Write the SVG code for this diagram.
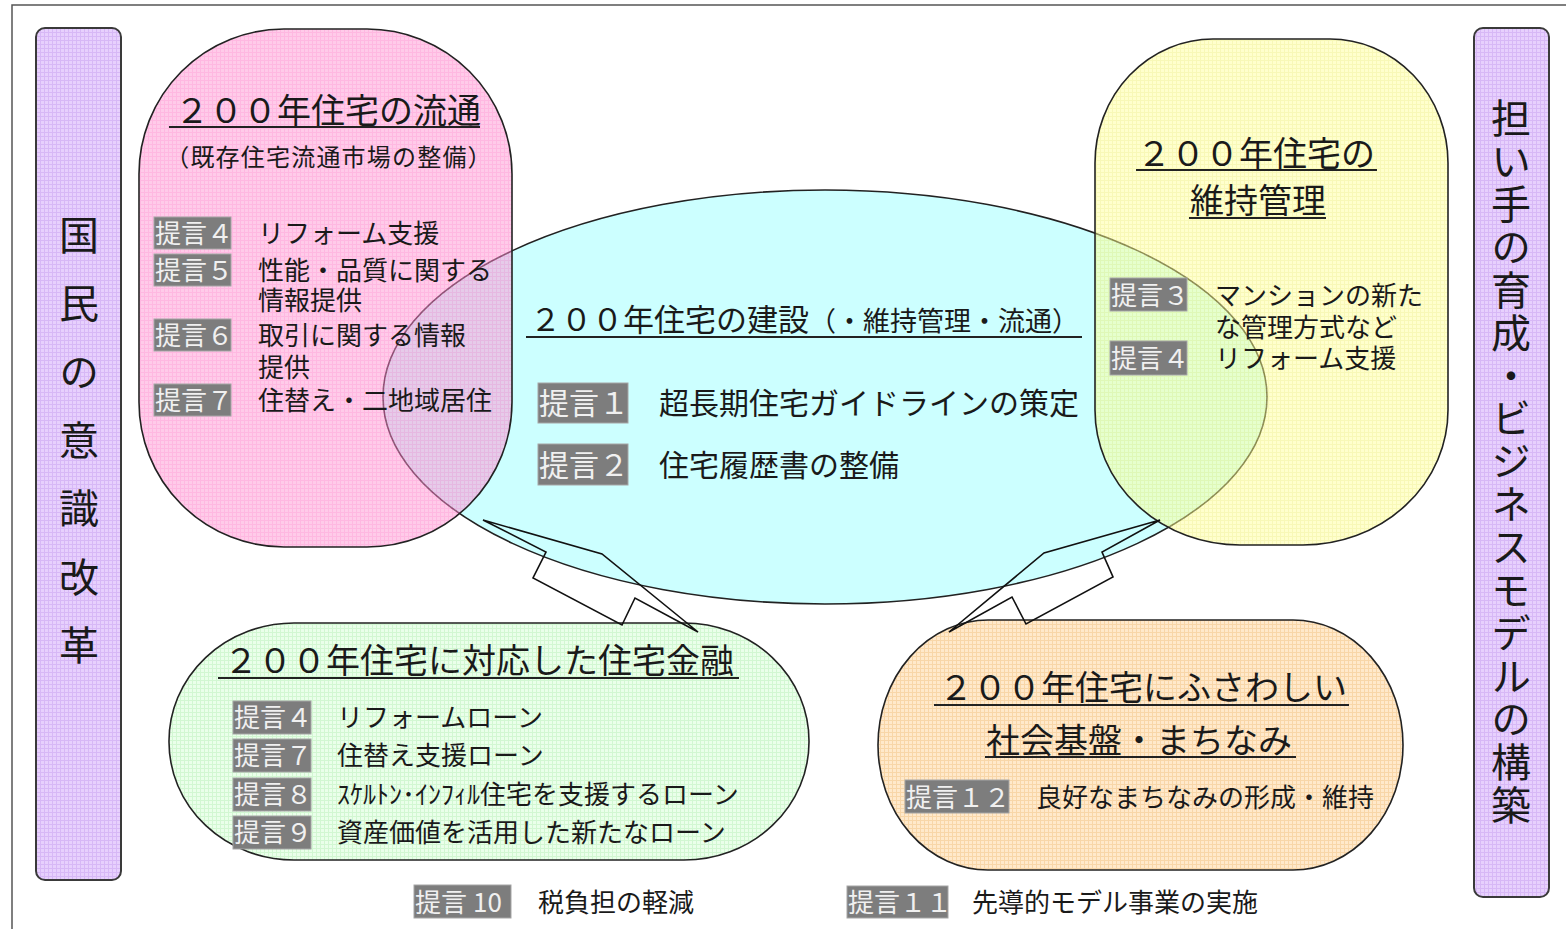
<svg xmlns="http://www.w3.org/2000/svg" width="1566" height="929" viewBox="0 0 1566 929">
<style>
.t{font-family:"Noto Sans CJK JP","Noto Sans CJK SC",sans-serif;fill:#1a1a1a}
.s24{font-size:24px}.s26{font-size:26px}.s27{font-size:27px}.s30{font-size:30px}.s31{font-size:31px}.s34{font-size:34px}.s40{font-size:40px}
.badge{fill:#7d7d7d;stroke:#a6a6a6;stroke-width:1}
.bt{fill:#f0f0f0}
.ul{stroke:#222;stroke-width:2}
.shp{stroke:#222;stroke-width:1.6}
.bar{fill:url(#pPurple);stroke:#3a3a3a;stroke-width:2}
.conn{fill:none;stroke:#111;stroke-width:1.6;stroke-linejoin:miter}
.vt{writing-mode:vertical-rl;text-orientation:upright}
</style>
<defs>
<pattern id="pPurple" width="4" height="4" patternUnits="userSpaceOnUse"><rect width="4" height="4" fill="#e7d0fd"/><path d="M0 0.5H4M0.5 0V4" stroke="#d7b8f6" stroke-width="1"/></pattern>
<pattern id="pPink" width="4" height="4" patternUnits="userSpaceOnUse"><rect width="4" height="4" fill="#ff97d4"/><path d="M0 0.5H4M0.5 0V4" stroke="#ff72c4" stroke-width="1"/></pattern>
<pattern id="pYellow" width="4" height="4" patternUnits="userSpaceOnUse"><rect width="4" height="4" fill="#ffff9c"/><path d="M0 0.5H4M0.5 0V4" stroke="#f2f270" stroke-width="1"/></pattern>
<pattern id="pGreen" width="4" height="4" patternUnits="userSpaceOnUse"><rect width="4" height="4" fill="#eaffea"/><path d="M0 0.5H4M0.5 0V4" stroke="#d2f7d2" stroke-width="1"/></pattern>
<pattern id="pOrange" width="4" height="4" patternUnits="userSpaceOnUse"><rect width="4" height="4" fill="#ffe9cb"/><path d="M0 0.5H4M0.5 0V4" stroke="#f8d6a8" stroke-width="1"/></pattern>
</defs>
<rect x="0" y="0" width="1566" height="929" fill="#fff"/>
<rect x="12" y="5" width="1620" height="1000" fill="none" stroke="#555" stroke-width="1.5"/>

<g id="bar-left">
<rect class="bar" x="36" y="28" width="85" height="852" rx="9"/>
<text class="t s40 vt" x="79" y="215" letter-spacing="28.3">国民の意識改革</text>
</g>

<g id="bar-right">
<rect class="bar" x="1474" y="28" width="75" height="869" rx="9"/>
<text class="t s40 vt" x="1511" y="98" letter-spacing="2.9">担い手の育成・ビジネスモデルの構築</text>
</g>

<g id="construction">
<ellipse class="shp" cx="825" cy="397" rx="442" ry="207" fill="#ccffff"/>
<text class="t" x="530" y="331"><tspan class="s31">２００年住宅の建設</tspan><tspan class="s27">（・維持管理・流通）</tspan></text>
<line class="ul" x1="526" y1="337" x2="1082" y2="337"/>
<rect class="badge" x="538" y="383" width="90" height="40"/>
<text class="t s30 bt" x="539" y="414">提言１</text>
<text class="t s30" x="659" y="414">超長期住宅ガイドラインの策定</text>
<rect class="badge" x="538" y="444" width="90" height="41"/>
<text class="t s30 bt" x="539" y="476">提言２</text>
<text class="t s30" x="659" y="476">住宅履歴書の整備</text>
</g>

<g id="distribution">
<rect class="shp" x="139" y="29" width="373" height="518" rx="145" ry="145" fill="url(#pPink)" fill-opacity="0.5"/>
<text class="t s34" x="175" y="123">２００年住宅の流通</text>
<line class="ul" x1="169" y1="127" x2="480" y2="127"/>
<text class="t s24" x="329" y="166" text-anchor="middle" letter-spacing="1.2">（既存住宅流通市場の整備）</text>
<rect class="badge" x="154" y="217" width="77" height="32"/>
<rect class="badge" x="154" y="254" width="77" height="32"/>
<rect class="badge" x="154" y="319" width="77" height="32"/>
<rect class="badge" x="154" y="384" width="77" height="32"/>
<text class="t s26 bt"><tspan x="155" y="243">提言４</tspan><tspan x="155" y="280">提言５</tspan><tspan x="155" y="345">提言６</tspan><tspan x="155" y="410">提言７</tspan></text>
<text class="t s26"><tspan x="258" y="243">リフォーム支援</tspan><tspan x="258" y="280">性能・品質に関する</tspan><tspan x="258" y="310">情報提供</tspan><tspan x="258" y="345">取引に関する情報</tspan><tspan x="258" y="377">提供</tspan><tspan x="258" y="410">住替え・二地域居住</tspan></text>
</g>

<g id="maintenance">
<path class="shp" d="M1213 39 H1330 A118 124 0 0 1 1448 163 V410 A145 135 0 0 1 1303 545 H1240 A145 135 0 0 1 1095 410 V163 A118 124 0 0 1 1213 39 Z" fill="url(#pYellow)" fill-opacity="0.5"/>
<text class="t s34" x="1137" y="166">２００年住宅の</text>
<line class="ul" x1="1136" y1="170" x2="1377" y2="170"/>
<text class="t s34" x="1190" y="213">維持管理</text>
<line class="ul" x1="1189" y1="218" x2="1326" y2="218"/>
<rect class="badge" x="1110" y="278" width="77" height="33"/>
<rect class="badge" x="1110" y="341" width="77" height="34"/>
<text class="t s26 bt"><tspan x="1111" y="305">提言３</tspan><tspan x="1111" y="368">提言４</tspan></text>
<text class="t s26"><tspan x="1215" y="305">マンションの新た</tspan><tspan x="1215" y="337">な管理方式など</tspan><tspan x="1215" y="368">リフォーム支援</tspan></text>
</g>

<g id="finance">
<rect class="shp" x="169" y="623" width="640" height="237" rx="125" ry="118" fill="url(#pGreen)"/>
<text class="t s34" x="224" y="673">２００年住宅に対応した住宅金融</text>
<line class="ul" x1="218" y1="678" x2="739" y2="678"/>
<rect class="badge" x="233" y="701" width="78" height="33"/>
<text class="t s26 bt" x="234" y="727">提言４</text>
<text class="t s26" x="337" y="727">リフォームローン</text>
<rect class="badge" x="233" y="739" width="78" height="33"/>
<text class="t s26 bt" x="234" y="765">提言７</text>
<text class="t s26" x="337" y="765">住替え支援ローン</text>
<rect class="badge" x="233" y="778" width="78" height="33"/>
<text class="t s26 bt" x="234" y="804">提言８</text>
<text class="t s26" x="337" y="804">ｽｹﾙﾄﾝ･ｲﾝﾌｨﾙ住宅を支援するローン</text>
<rect class="badge" x="233" y="816" width="78" height="33"/>
<text class="t s26 bt" x="234" y="842">提言９</text>
<text class="t s26" x="337" y="842">資産価値を活用した新たなローン</text>
</g>

<g id="townscape">
<rect class="shp" x="878" y="620" width="525" height="250" rx="110" ry="125" fill="url(#pOrange)"/>
<text class="t s34" x="939" y="700">２００年住宅にふさわしい</text>
<line class="ul" x1="934" y1="705" x2="1349" y2="705"/>
<text class="t s34" x="986" y="753">社会基盤・まちなみ</text>
<line class="ul" x1="985" y1="757" x2="1296" y2="757"/>
<rect class="badge" x="905" y="780" width="104" height="33"/>
<text class="t s26 bt" x="906" y="807">提言１２</text>
<text class="t s26" x="1036" y="807">良好なまちなみの形成・維持</text>
</g>

<g id="tax">
<rect class="badge" x="414" y="885" width="97" height="33"/>
<text class="t s26 bt" x="415" y="912">提言<tspan dx="6">10</tspan></text>
<text class="t s26" x="538" y="912">税負担の軽減</text>
</g>

<g id="model">
<rect class="badge" x="847" y="886" width="101" height="32"/>
<text class="t s26 bt" x="848" y="912">提言１１</text>
<text class="t s26" x="972" y="912">先導的モデル事業の実施</text>
</g>

<g id="connectors">
<polygon class="conn" points="483,520 546,552 533,578 622,625 635,598 698,632 602,554"/>
<polygon class="conn" points="1160,520 1044,553 949,632 1012,597 1026,624 1113,577 1102,552"/>
</g>
</svg>
